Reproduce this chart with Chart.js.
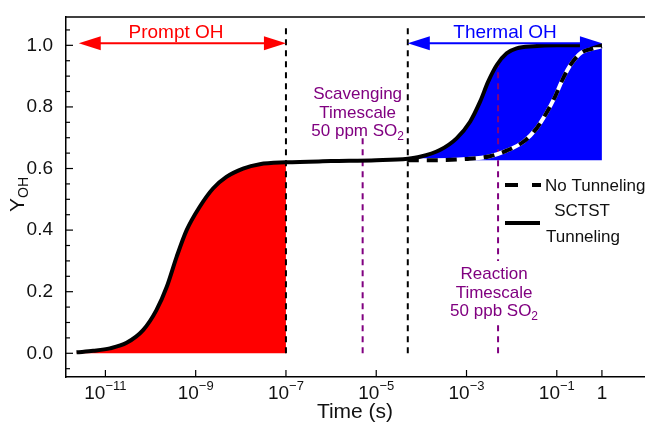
<!DOCTYPE html>
<html>
<head>
<meta charset="utf-8">
<script src="https://cdn.jsdelivr.net/npm/chart.js@4.4.1/dist/chart.umd.min.js"></script>
<style>
  html, body { margin: 0; padding: 0; background: #fff; }
  #wrap { width: 645px; height: 429px; }
</style>
</head>
<body>
<div id="wrap"><canvas id="ohChart" width="645" height="429"></canvas></div>
<script>
const FONT = "'Liberation Sans', Arial, sans-serif";
const PURPLE = '#800080';

// SCTST tunneling curve: time (s) and Y_OH
const tunnelTime = [2.29e-12, 5.37e-12, 1.26e-11, 2.95e-11, 6.92e-11, 1.35e-10, 2.29e-10, 3.80e-10,
  6.31e-10, 1.23e-9, 2.45e-9, 4.79e-9, 1.12e-8, 2.63e-8, 1e-7, 1e-6, 1e-5, 5e-5, 9.33e-5, 2.57e-4,
  6.03e-4, 1.20e-3, 2.0e-3, 3.02e-3, 4.68e-3, 7.76e-3, 1.29e-2, 3.02e-2, 0.1, 1];
const tunnelYield = [0.003, 0.008, 0.016, 0.034, 0.076, 0.14, 0.216, 0.314,
  0.40, 0.476, 0.536, 0.573, 0.60, 0.614, 0.62, 0.624, 0.627, 0.632, 0.638, 0.66,
  0.698, 0.752, 0.817, 0.882, 0.936, 0.974, 0.99, 0.997, 1.0, 1.0];

// no tunneling curve (thermal part only)
const noTunnelTime = [5e-5, 1.82e-4, 1e-3, 3.31e-3, 7.76e-3, 1.82e-2, 3.55e-2, 5.89e-2,
  9.12e-2, 0.138, 0.214, 0.355, 0.646, 1];
const noTunnelYield = [0.627, 0.627, 0.631, 0.640, 0.658, 0.687, 0.73, 0.78,
  0.833, 0.893, 0.942, 0.977, 0.99, 0.997];

// marker times (s)
const promptEnd = 1e-7;
const thermalStart = 5e-5;
const scavengeTime = 5e-6;
const reactionTime = 5e-3;
const arrowStart = 2.57e-12;
const arrowEnd = 1;
const plateau = 0.627;

const xTickExps = [-11, -9, -7, -5, -3, -1, 0];
const yTicks = [0, 0.2, 0.4, 0.6, 0.8, 1.0];

const xMin = 1.34e-12, xMax = 9.0;
const yMin = -0.077, yMax = 1.092;

const pts = (xs, ys) => xs.map((x, i) => ({ x: x, y: ys[i] }));
const tunnelPts = pts(tunnelTime, tunnelYield);
const promptPts = tunnelPts.filter(p => p.x <= promptEnd);
const thermalPts = tunnelPts.filter(p => p.x >= thermalStart);

function vline(x, y0, y1, color, order) {
    return {
        data: [{ x: x, y: y0 }, { x: x, y: y1 }],
        borderColor: color, borderWidth: 2, borderDash: [6, 5],
        pointRadius: 0, showLine: true, fill: false, order: order
    };
}

function font(size) { return size + 'px ' + FONT; }

// draw a string made of parts {t, size, dy}, centred on cx
function richText(ctx, parts, cx, base, color, align) {
    let total = 0;
    parts.forEach(p => { ctx.font = font(p.size); p.w = ctx.measureText(p.t).width; total += p.w; });
    let x0 = align === 'left' ? cx : cx - total / 2;
    ctx.fillStyle = color;
    ctx.textAlign = 'left';
    ctx.textBaseline = 'alphabetic';
    parts.forEach(p => { ctx.font = font(p.size); ctx.fillText(p.t, x0, base + (p.dy || 0)); x0 += p.w; });
}

function arrow(ctx, x0, x1, yy, color) {
    const head = 22, half = 7;
    ctx.strokeStyle = color; ctx.fillStyle = color; ctx.lineWidth = 2;
    ctx.beginPath(); ctx.moveTo(x0 + head - 2, yy); ctx.lineTo(x1 - head + 2, yy); ctx.stroke();
    ctx.beginPath(); ctx.moveTo(x0, yy); ctx.lineTo(x0 + head, yy - half); ctx.lineTo(x0 + head, yy + half); ctx.closePath(); ctx.fill();
    ctx.beginPath(); ctx.moveTo(x1, yy); ctx.lineTo(x1 - head, yy - half); ctx.lineTo(x1 - head, yy + half); ctx.closePath(); ctx.fill();
}

const overlay = {
    id: 'overlay',
    afterDatasetsDraw(chart) {
        const { ctx, chartArea: a, scales: { x, y } } = chart;
        ctx.save();

        // top frame
        ctx.strokeStyle = '#000'; ctx.lineWidth = 1.5; ctx.setLineDash([]);
        ctx.beginPath(); ctx.moveTo(a.left, a.top); ctx.lineTo(a.right, a.top); ctx.stroke();

        // inward ticks
        ctx.lineWidth = 1.2;
        xTickExps.forEach(e => {
            const px = x.getPixelForValue(Math.pow(10, e));
            ctx.beginPath(); ctx.moveTo(px, a.bottom); ctx.lineTo(px, a.bottom - 7); ctx.stroke();
        });
        for (let k = -1; k <= 21; k++) {
            const py = y.getPixelForValue(k * 0.05);
            const len = k % 4 === 0 ? 7 : 4;
            ctx.beginPath(); ctx.moveTo(a.left, py); ctx.lineTo(a.left + len, py); ctx.stroke();
        }

        // x tick labels with superscripts
        xTickExps.forEach(e => {
            const px = x.getPixelForValue(Math.pow(10, e));
            const parts = e === 0 ? [{ t: '1', size: 19 }]
                : [{ t: '10', size: 19 }, { t: '\u2212' + Math.abs(e), size: 13, dy: -9 }];
            richText(ctx, parts, px, 399, '#111');
        });

        // axis titles
        richText(ctx, [{ t: 'Time (s)', size: 21 }], 355, 418, '#111');
        ctx.save();
        ctx.translate(24, 212);
        ctx.rotate(-Math.PI / 2);
        richText(ctx, [{ t: 'Y', size: 21 }, { t: 'OH', size: 14, dy: 4 }], 0, 0, '#111', 'left');
        ctx.restore();

        // Prompt / Thermal arrows
        const ay = y.getPixelForValue(1.007);
        arrow(ctx, x.getPixelForValue(arrowStart), x.getPixelForValue(promptEnd), ay, '#ff0000');
        arrow(ctx, x.getPixelForValue(thermalStart), x.getPixelForValue(arrowEnd), ay, '#0000ff');
        richText(ctx, [{ t: 'Prompt OH', size: 19 }], 176, 38, '#ff0000');
        richText(ctx, [{ t: 'Thermal OH', size: 19 }], 505, 38, '#0000ff');

        // scavenging label
        const sx = x.getPixelForValue(scavengeTime) - 5;
        richText(ctx, [{ t: 'Scavenging', size: 17 }], sx, 99, PURPLE);
        richText(ctx, [{ t: 'Timescale', size: 17 }], sx, 118, PURPLE);
        richText(ctx, [{ t: '50 ppm SO', size: 17 }, { t: '2', size: 12, dy: 4 }], sx, 136, PURPLE);

        // reaction label on white box
        const rx = x.getPixelForValue(reactionTime) - 4;
        ctx.fillStyle = '#fff';
        ctx.fillRect(rx - 47, 261, 94, 62);
        richText(ctx, [{ t: 'Reaction', size: 17 }], rx, 279, PURPLE);
        richText(ctx, [{ t: 'Timescale', size: 17 }], rx, 298, PURPLE);
        richText(ctx, [{ t: '50 ppb SO', size: 17 }, { t: '2', size: 12, dy: 4 }], rx, 316, PURPLE);

        // legend
        ctx.strokeStyle = '#000'; ctx.lineWidth = 4;
        ctx.setLineDash([13, 14]);
        ctx.beginPath(); ctx.moveTo(505, 185); ctx.lineTo(541, 185); ctx.stroke();
        ctx.setLineDash([]);
        ctx.beginPath(); ctx.moveTo(505, 223); ctx.lineTo(540, 223); ctx.stroke();
        richText(ctx, [{ t: 'No Tunneling', size: 17 }], 545, 191, '#111', 'left');
        richText(ctx, [{ t: 'SCTST', size: 17 }], 582, 216, '#111');
        richText(ctx, [{ t: 'Tunneling', size: 17 }], 583, 242, '#111');

        ctx.restore();
    }
};

const ctx = document.getElementById('ohChart').getContext('2d');
const chart = new Chart(ctx, {
    type: 'scatter',
    data: {
        datasets: [
            { // SCTST tunneling
                data: tunnelPts, borderColor: '#000', borderWidth: 4, pointRadius: 0,
                showLine: true, cubicInterpolationMode: 'monotone', fill: false, order: 0
            },
            { // no tunneling, black dashes
                data: pts(noTunnelTime, noTunnelYield), borderColor: '#000', borderWidth: 4,
                borderDash: [11, 8], pointRadius: 0, showLine: true,
                cubicInterpolationMode: 'monotone', fill: false, order: 1
            },
            { // no tunneling, white under-line
                data: pts(noTunnelTime, noTunnelYield), borderColor: '#fff', borderWidth: 4,
                pointRadius: 0, showLine: true, cubicInterpolationMode: 'monotone', fill: false, order: 2
            },
            vline(promptEnd, 0, 1.06, '#000', 3),
            vline(thermalStart, 0, 1.06, '#000', 3),
            vline(scavengeTime, 0, 0.70, PURPLE, 3),
            vline(reactionTime, 0, 0.947, PURPLE, 3),
            { // thermal OH fill
                data: thermalPts, borderWidth: 0, borderColor: 'rgba(0,0,0,0)', backgroundColor: '#0000ff',
                pointRadius: 0, showLine: true, cubicInterpolationMode: 'monotone',
                fill: { value: plateau }, order: 4
            },
            { // prompt OH fill
                data: promptPts, borderWidth: 0, borderColor: 'rgba(0,0,0,0)', backgroundColor: '#ff0000',
                pointRadius: 0, showLine: true, cubicInterpolationMode: 'monotone',
                fill: 'origin', order: 5
            }
        ]
    },
    options: {
        responsive: false,
        animation: false,
        layout: { padding: { top: 17, right: 0, bottom: 0, left: 0 } },
        plugins: { legend: { display: false }, tooltip: { enabled: false } },
        scales: {
            x: {
                type: 'logarithmic', min: xMin, max: xMax,
                grid: { display: false },
                border: { display: true, color: '#000', width: 1.5 },
                ticks: { display: false },
                afterFit: s => { s.height = 52; }
            },
            y: {
                min: yMin, max: yMax,
                grid: { display: false },
                border: { display: true, color: '#000', width: 1.5 },
                afterBuildTicks: s => { s.ticks = yTicks.map(v => ({ value: v })); },
                ticks: {
                    padding: 5, color: '#111',
                    font: { family: FONT, size: 19 },
                    callback: v => v.toFixed(1)
                },
                afterFit: s => { s.width = 66; }
            }
        }
    },
    plugins: [overlay]
});
</script>
</body>
</html>
